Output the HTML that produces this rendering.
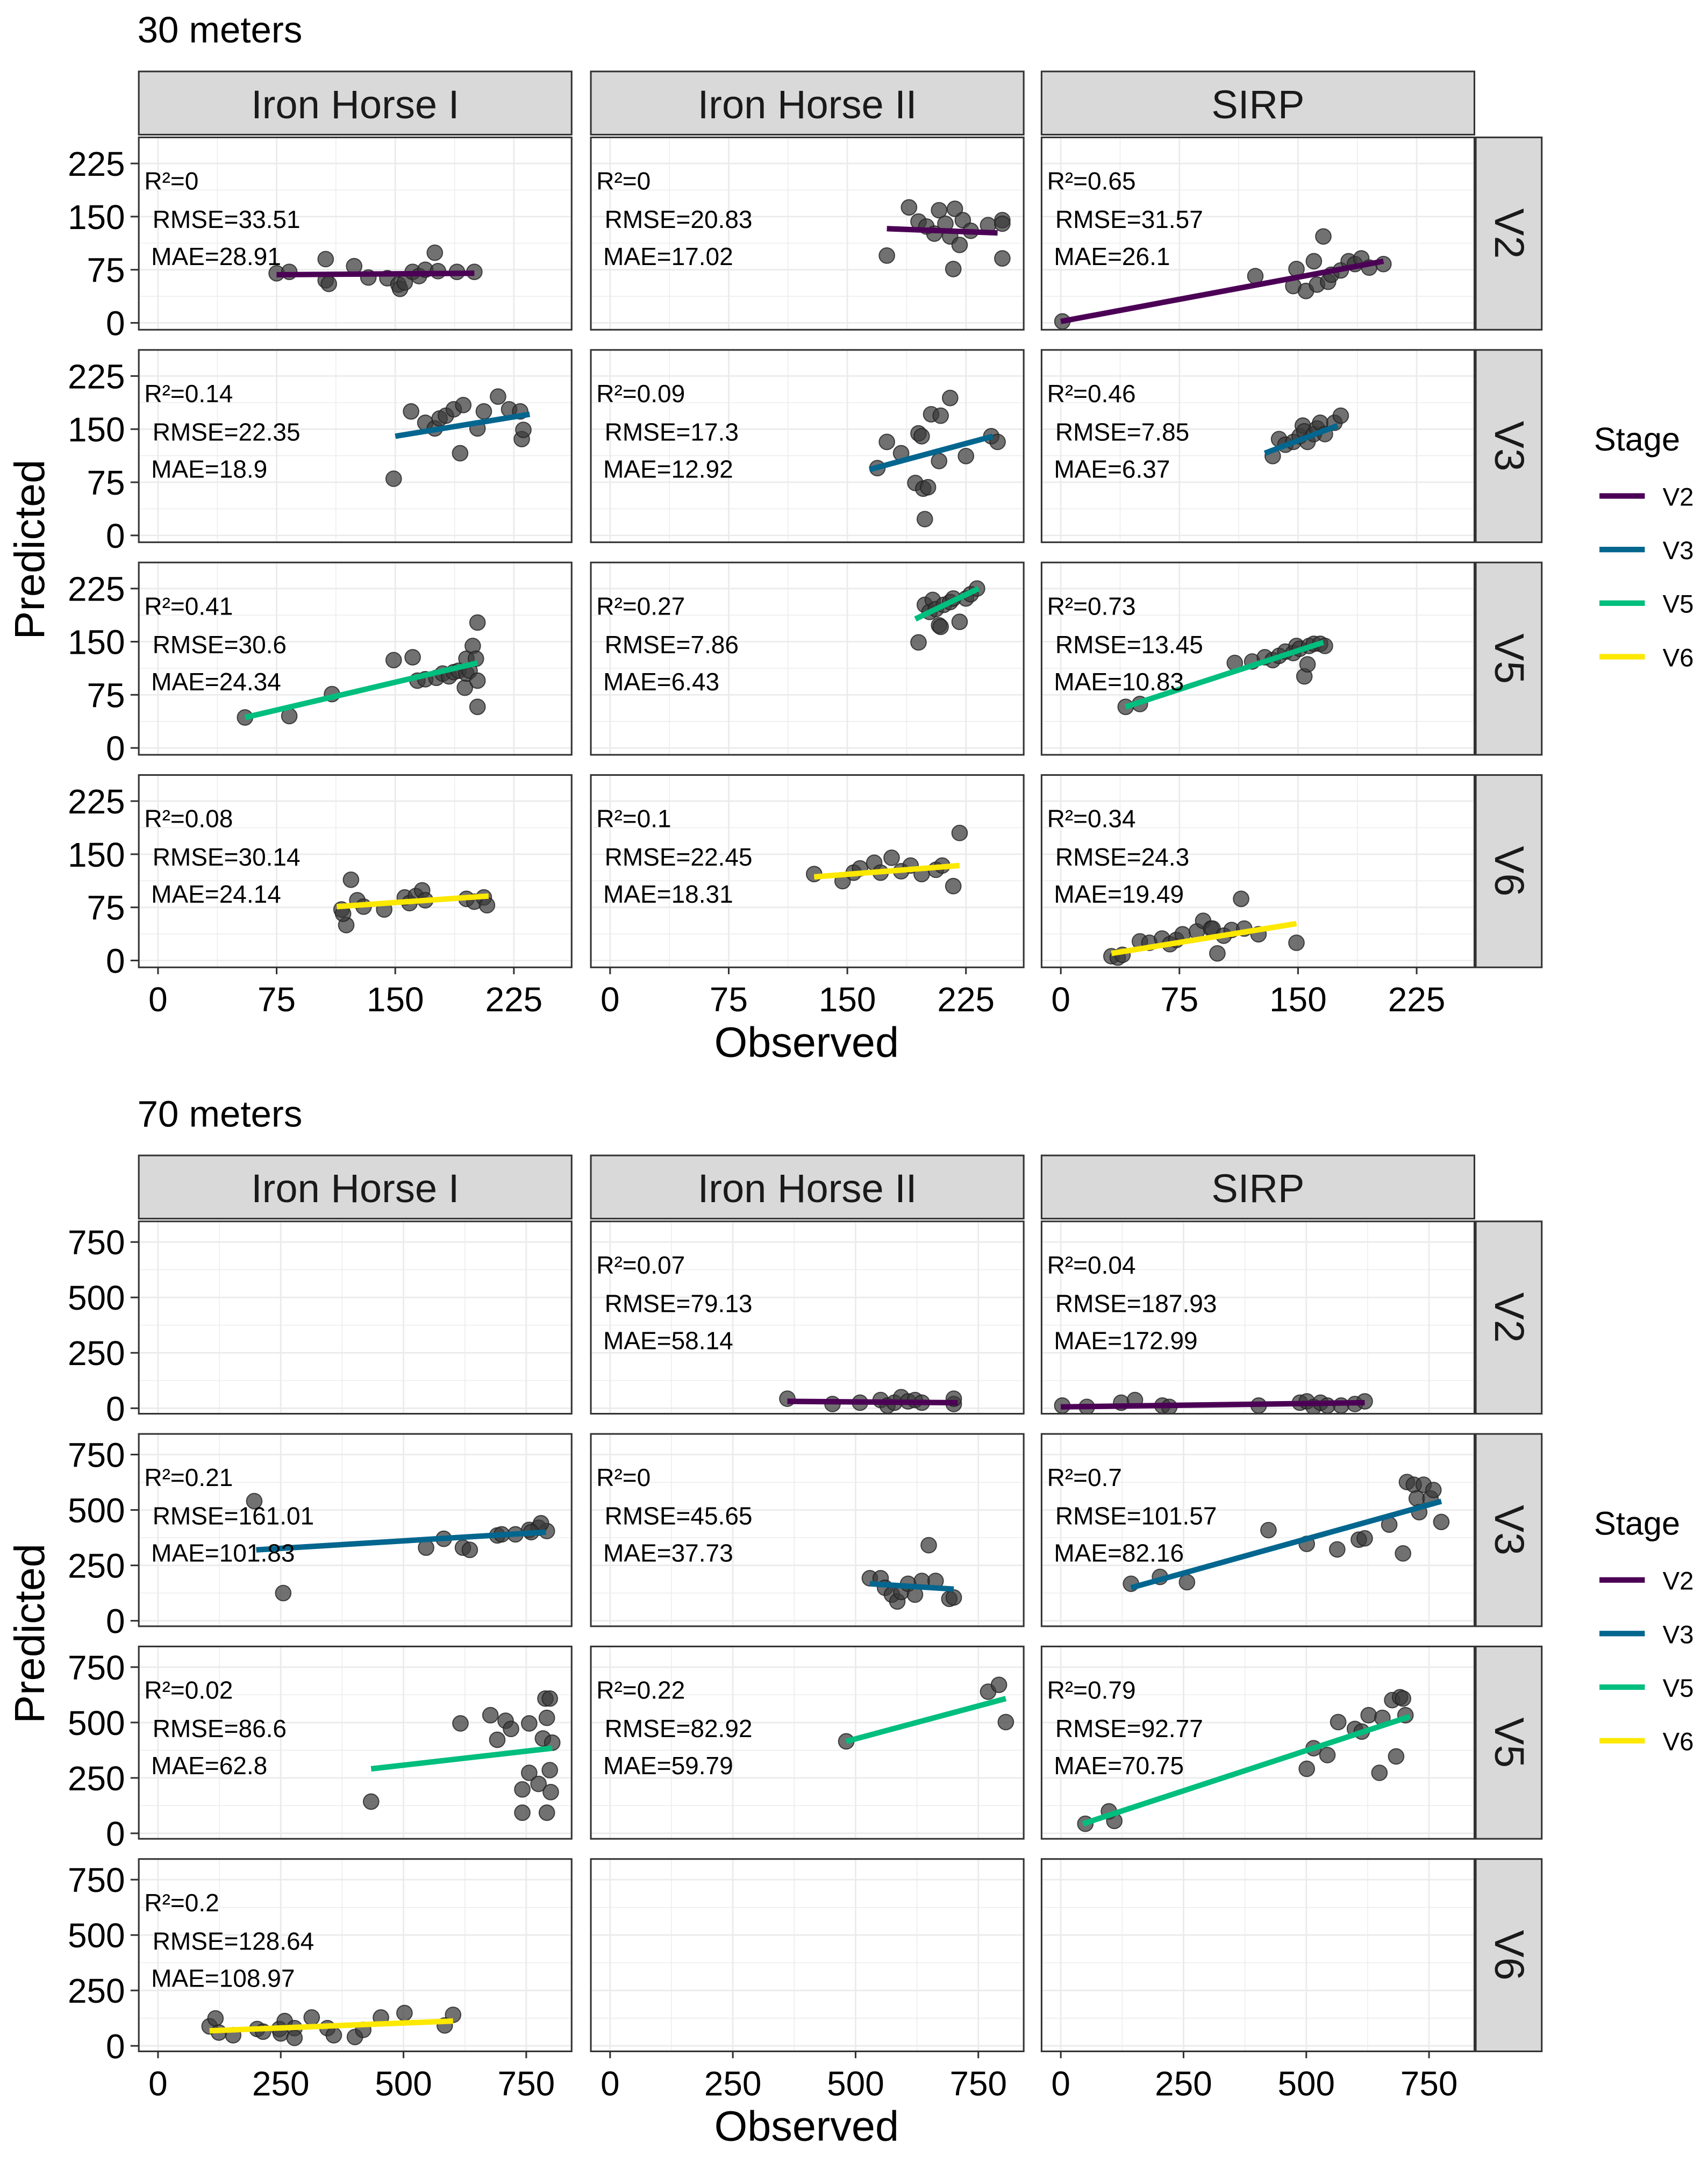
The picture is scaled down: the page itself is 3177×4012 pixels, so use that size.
<!DOCTYPE html>
<html><head><meta charset="utf-8"><style>
html,body{margin:0;padding:0;background:#fff;}
svg{display:block;font-family:"Liberation Sans",sans-serif;}
</style></head><body>
<svg id="chart" xmlns="http://www.w3.org/2000/svg" width="3177" height="4012" viewBox="0 0 1243 1570" preserveAspectRatio="none"></svg>
<script>
// ---- data ----
const sites = ["Iron Horse I", "Iron Horse II", "SIRP"];
const stages = ["V2", "V3", "V5", "V6"];
const stageColors = ["#4B0055", "#03668F", "#00BE7D", "#FDE800"];
const ticks30 = [0, 75, 150, 225];
const ticks70 = [0, 250, 500, 750];

// 30 m points: [observed, predicted]
const pts30_V2_IH1 = [[75,70],[83,72],[106,90],[106,60],[108,55],[124,80],[133,64],[145,63],[152,54],[153,48],[156,57],[161,72],[165,66],[169,75],[175,99],[177,73],[189,72],[200,72]];
const pts30_V2_IH2 = [[175,95],[189,163],[195,143],[200,136],[205,126],[208,159],[212,140],[215,122],[217,76],[218,161],[221,110],[223,145],[228,130],[239,138],[248,145],[248,140],[248,91]];
const pts30_V2_SIRP = [[1,2],[123,66],[147,52],[149,76],[155,45],[160,87],[162,54],[166,122],[169,58],[171,68],[177,74],[182,87],[186,83],[190,91],[195,78],[204,83]];
const pts30_V3_IH1 = [[149,80],[160,175],[169,159],[175,151],[178,165],[182,169],[187,178],[191,116],[193,184],[202,151],[206,175],[215,196],[222,178],[229,175],[230,136],[231,149]];
const pts30_V3_IH2 = [[169,95],[175,132],[184,116],[193,74],[195,144],[197,140],[198,66],[199,23],[201,68],[203,171],[208,105],[209,169],[215,194],[225,112],[241,140],[245,132]];
const pts30_V3_SIRP = [[134,112],[138,136],[142,128],[147,132],[151,140],[153,155],[154,147],[156,132],[160,143],[162,151],[164,159],[167,143],[173,159],[177,169]];
const pts30_V5_IH1 = [[55,43],[83,45],[110,76],[149,124],[161,128],[164,95],[169,97],[176,99],[180,105],[184,101],[187,107],[190,109],[194,85],[195,105],[195,126],[197,109],[199,144],[201,126],[202,95],[202,58],[202,177]];
const pts30_V5_IH2 = [[195,149],[199,202],[202,192],[204,209],[206,196],[208,173],[209,171],[211,202],[215,206],[217,211],[221,178],[225,211],[228,217],[232,225]];
const pts30_V5_SIRP = [[41,58],[50,62],[110,120],[121,122],[129,128],[134,124],[138,130],[142,136],[147,134],[149,144],[151,140],[154,101],[156,118],[157,144],[160,147],[164,147],[167,144]];
const pts30_V6_IH1 = [[116,72],[119,50],[122,114],[126,85],[130,76],[143,72],[156,89],[159,81],[163,91],[167,99],[169,85],[195,87],[200,83],[206,89],[208,78],[117,66]];
const pts30_V6_IH2 = [[129,122],[147,112],[154,124],[158,130],[167,138],[171,124],[178,145],[184,126],[190,134],[197,122],[206,128],[210,134],[217,105],[221,180]];
const pts30_V6_SIRP = [[32,6],[36,4],[39,8],[50,27],[56,25],[64,31],[69,23],[73,29],[77,37],[86,41],[90,56],[95,45],[96,45],[99,10],[103,35],[108,43],[114,87],[116,45],[125,37],[149,25]];

// 30 m fit lines: [x0, y0, x1, y1]
const fit30_V2 = [[75,68,200,70],[175,133,245,127],[0,2,204,87]];
const fit30_V3 = [[150,140,235,171],[164,93,242,140],[129,116,175,155]];
const fit30_V5 = [[55,43,202,120],[193,182,233,225],[41,58,166,149]];
const fit30_V6 = [[113,76,209,91],[129,118,221,134],[32,10,149,52]];

// 30 m stats: [R2, RMSE, MAE]
const stats30_V2 = [["0","33.51","28.91"],["0","20.83","17.02"],["0.65","31.57","26.1"]];
const stats30_V3 = [["0.14","22.35","18.9"],["0.09","17.3","12.92"],["0.46","7.85","6.37"]];
const stats30_V5 = [["0.41","30.6","24.34"],["0.27","7.86","6.43"],["0.73","13.45","10.83"]];
const stats30_V6 = [["0.08","30.14","24.14"],["0.1","22.45","18.31"],["0.34","24.3","19.49"]];

// 70 m
const pts70_V2_IH1 = [];
const pts70_V2_IH2 = [[361,43],[453,19],[509,25],[551,37],[565,12],[579,25],[593,50],[607,31],[621,37],[635,25],[700,19],[700,43]];
const pts70_V2_SIRP = [[3,12],[53,6],[123,25],[151,37],[207,12],[221,6],[403,12],[487,25],[501,31],[515,6],[529,25],[543,12],[571,12],[599,19],[619,31]];
const pts70_V3_IH1 = [[196,540],[255,125],[546,330],[582,370],[621,330],[635,320],[691,385],[728,390],[756,410],[775,420],[792,405],[780,440],[760,400],[700,390]];
const pts70_V3_IH2 = [[529,192],[551,192],[560,149],[574,118],[585,87],[593,130],[607,167],[621,118],[635,180],[649,341],[663,180],[691,99],[700,105]];
const pts70_V3_SIRP = [[143,167],[202,198],[257,174],[423,409],[501,347],[563,322],[607,366],[619,372],[669,434],[697,304],[705,626],[719,614],[725,552],[730,490],[739,614],[753,552],[759,590],[775,446]];
const pts70_V5_IH1 = [[434,143],[616,496],[677,533],[691,422],[708,508],[719,471],[742,198],[756,496],[756,273],[775,223],[784,428],[789,608],[792,521],[798,608],[798,285],[800,186],[803,409],[742,93],[792,93]];
const pts70_V5_IH2 = [[481,415],[770,639],[792,670],[806,502]];
const pts70_V5_SIRP = [[50,43],[98,99],[109,56],[501,291],[515,384],[543,353],[565,502],[599,471],[613,459],[627,533],[649,273],[655,521],[675,601],[683,347],[691,614],[697,608],[702,533]];
const pts70_V6_IH1 = [[105,88],[117,124],[124,60],[153,48],[202,76],[214,64],[247,76],[258,112],[250,56],[278,80],[278,36],[313,128],[345,80],[358,48],[401,40],[418,72],[454,128],[502,148],[584,92],[601,140]];
const pts70_V6_IH2 = [];
const pts70_V6_SIRP = [];

const fit70_V2 = [null,[361,31,708,25],[0,6,619,25]];
const fit70_V3 = [[200,320,790,400],[529,167,700,143],[143,149,775,539]];
const fit70_V5 = [[434,291,803,384],[481,415,806,608],[45,43,711,527]];
const fit70_V6 = [[105,68,601,112],null,null];

const stats70_V2 = [null,["0.07","79.13","58.14"],["0.04","187.93","172.99"]];
const stats70_V3 = [["0.21","161.01","101.83"],["0","45.65","37.73"],["0.7","101.57","82.16"]];
const stats70_V5 = [["0.02","86.6","62.8"],["0.22","82.92","59.79"],["0.79","92.77","70.75"]];
const stats70_V6 = [["0.2","128.64","108.97"],null,null];

// ---- layout ----
const NS = "http://www.w3.org/2000/svg";
const svg = document.getElementById("chart");
function mk(tag, attrs, parent, text) {
  const e = document.createElementNS(NS, tag);
  for (const k in attrs) e.setAttribute(k, attrs[k]);
  if (text !== undefined) e.textContent = text;
  (parent || svg).appendChild(e);
  return e;
}
const colL = [101, 430, 758];
const colW = 315;
const panelH = 140;

function drawChart(cfg) {
  const g = mk("g", {});
  
  
  const t = mk("text", {x: 100, y: cfg.top - 21, "font-size": 27, fill: "#000"}, g, cfg.title);
  
  
  for (let c = 0; c < 3; c++) {
    const s = mk("rect", {x: colL[c], y: cfg.top, width: colW, height: 46, fill: "#D9D9D9", stroke: "#333", "stroke-width": 1.2}, g);
    
    
    const st = mk("text", {x: colL[c] + colW / 2, y: cfg.top + 34, "font-size": 29, "text-anchor": "middle", fill: "#1A1A1A"}, g, sites[c]);
    
    
  }
  const xs = v => v * cfg.kx;
  for (let r = 0; r < 4; r++) {
    const top = cfg.top + 48 + r * 154.7;
    const y0 = top + cfg.zeroOff;
    const ys = v => y0 - v * cfg.ky;
    const rs = mk("rect", {x: 1074, y: top, width: 48, height: panelH, fill: "#D9D9D9", stroke: "#333", "stroke-width": 1.2}, g);
    
    
    const rt = mk("text", {x: 0, y: 0, "font-size": 30, "text-anchor": "middle", fill: "#1A1A1A", transform: `translate(1088,${top + panelH / 2}) rotate(90)`}, g, stages[r]);
    
    
    cfg.ticks.forEach(tv => {
      mk("line", {x1: 95, x2: 101, y1: ys(tv), y2: ys(tv), stroke: "#333", "stroke-width": 1.2}, g);
      const tl = mk("text", {x: 91, y: ys(tv) + 9, "font-size": 25, "text-anchor": "end", fill: "#000"}, g, tv);
      
      
    });
    for (let c = 0; c < 3; c++) {
      const L = colL[c], x0 = L + 14;
      const pg = mk("g", {}, g);
      
      
      mk("rect", {x: L, y: top, width: colW, height: panelH, fill: "#fff"}, pg);
      const clipId = "clip" + cfg.title.replace(/\s/g, "") + r + c;
      const cp = mk("clipPath", {id: clipId}, pg);
      mk("rect", {x: L, y: top, width: colW, height: panelH}, cp);
      const inner = mk("g", {"clip-path": `url(#${clipId})`}, pg);
      const step = cfg.ticks[1];
      for (let v = -step / 2; v <= step * 4; v += step / 2) {
        const major = Math.abs(v / step - Math.round(v / step)) < 1e-6;
        const w = major ? 1.1 : 0.55;
        mk("line", {x1: L, x2: L + colW, y1: ys(v), y2: ys(v), stroke: "#EBEBEB", "stroke-width": w}, inner);
        mk("line", {y1: top, y2: top + panelH, x1: x0 + xs(v), x2: x0 + xs(v), stroke: "#EBEBEB", "stroke-width": w}, inner);
      }
      const pts = cfg.pts[r][c];
      pts.forEach(p => {
        const ci = mk("circle", {cx: x0 + xs(p[0]), cy: ys(p[1]), r: 5.6, fill: "#3a3a3a", "fill-opacity": 0.72, stroke: "#222", "stroke-opacity": 0.8, "stroke-width": 0.8}, inner);
        
        
      });
      const f = cfg.fits[r][c];
      if (f) {
        const ln = mk("line", {x1: x0 + xs(f[0]), y1: ys(f[1]), x2: x0 + xs(f[2]), y2: ys(f[3]), stroke: stageColors[r], "stroke-width": 4}, inner);
        
        
      }
      const s = cfg.stats[r][c];
      if (s) {
        const tx = mk("text", {x: L + 4, y: top + 38, "font-size": 18, fill: "#000"}, inner, "R²=" + s[0]);
        
        
        const tx2 = mk("text", {x: L + 10, y: top + 66, "font-size": 18, fill: "#000"}, inner, "RMSE=" + s[1]);
        
        
        const tx3 = mk("text", {x: L + 9, y: top + 93, "font-size": 18, fill: "#000"}, inner, "MAE=" + s[2]);
        
        
      }
      mk("rect", {x: L, y: top, width: colW, height: panelH, fill: "none", stroke: "#333", "stroke-width": 1.2}, pg);
      if (r === 3) {
        cfg.ticks.forEach(tv => {
          mk("line", {x1: x0 + xs(tv), x2: x0 + xs(tv), y1: top + panelH, y2: top + panelH + 5, stroke: "#333", "stroke-width": 1.2}, g);
          const xl = mk("text", {x: x0 + xs(tv), y: top + panelH + 32, "font-size": 25, "text-anchor": "middle", fill: "#000"}, g, tv);
          
          
        });
      }
    }
  }
  const bottom = cfg.top + 48 + 3 * 154.7 + panelH;
  const xt = mk("text", {x: 587, y: bottom + 65, "font-size": 31, "text-anchor": "middle", fill: "#000"}, g, "Observed");
  
  
  const yt = mk("text", {x: 0, y: 0, "font-size": 31, "text-anchor": "middle", fill: "#000", transform: `translate(32,${cfg.top + 348}) rotate(-90)`}, g, "Predicted");
  
  
  const lg = mk("g", {}, g);
  
  
  const ly = cfg.top + 276;
  mk("text", {x: 1160, y: ly, "font-size": 24, fill: "#000"}, lg, "Stage");
  stages.forEach((s, i) => {
    const yy = ly + 33 + i * 39;
    const le = mk("line", {x1: 1164, x2: 1197, y1: yy, y2: yy, stroke: stageColors[i], "stroke-width": 4}, lg);
    
    
    mk("text", {x: 1210, y: yy + 7, "font-size": 18.5, fill: "#000"}, lg, s);
  });
}

drawChart({
  name: "chart-30-meters", title: "30 meters", top: 52, zeroOff: 135, kx: 1.151, ky: 0.5156, ticks: ticks30,
  pts: [[pts30_V2_IH1, pts30_V2_IH2, pts30_V2_SIRP], [pts30_V3_IH1, pts30_V3_IH2, pts30_V3_SIRP], [pts30_V5_IH1, pts30_V5_IH2, pts30_V5_SIRP], [pts30_V6_IH1, pts30_V6_IH2, pts30_V6_SIRP]],
  fits: [fit30_V2, fit30_V3, fit30_V5, fit30_V6],
  stats: [stats30_V2, stats30_V3, stats30_V5, stats30_V6]
});
drawChart({
  name: "chart-70-meters", title: "70 meters", top: 841, zeroOff: 136, kx: 0.3573, ky: 0.1613, ticks: ticks70,
  pts: [[pts70_V2_IH1, pts70_V2_IH2, pts70_V2_SIRP], [pts70_V3_IH1, pts70_V3_IH2, pts70_V3_SIRP], [pts70_V5_IH1, pts70_V5_IH2, pts70_V5_SIRP], [pts70_V6_IH1, pts70_V6_IH2, pts70_V6_SIRP]],
  fits: [fit70_V2, fit70_V3, fit70_V5, fit70_V6],
  stats: [stats70_V2, stats70_V3, stats70_V5, stats70_V6]
});
</script>
</body></html>
